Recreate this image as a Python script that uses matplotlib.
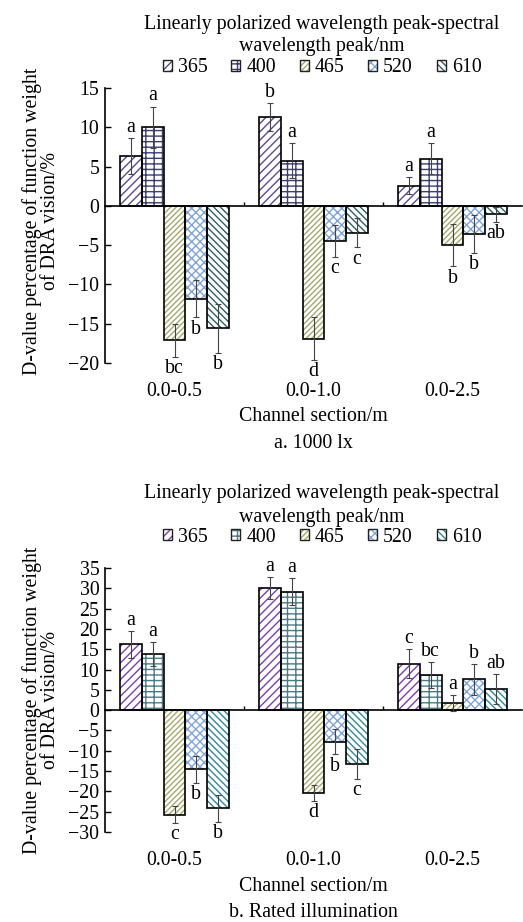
import matplotlib.pyplot as plt
import matplotlib.transforms as mtransforms
from matplotlib.patches import Patch
from matplotlib.legend_handler import HandlerTuple
import numpy as np

plt.rcParams['font.family'] = ['Liberation Serif', 'DejaVu Serif']
plt.rcParams['font.size'] = 14.3
plt.rcParams['hatch.linewidth'] = 1.0

groups = ["0.0-0.5", "0.0-1.0", "0.0-2.5"]
wavelengths = ["365", "400", "465", "520", "610"]

# panel a: 1000 lx
a_vals = [[6.3, 11.3, 2.55],
          [10.0, 5.75, 6.0],
          [-17.1, -16.9, -5.0],
          [-11.8, -4.5, -3.6],
          [-15.6, -3.4, -1.05]]
a_err = [[2.3, 1.8, 1.1],
         [2.6, 2.2, 2.0],
         [2.1, 2.7, 2.7],
         [2.4, 2.0, 2.4],
         [3.1, 1.9, 0.95]]
a_letters = [["a", "b", "a"],
             ["a", "a", "a"],
             ["bc", "d", "b"],
             ["b", "c", "b"],
             ["b", "c", "ab"]]

# panel b: rated illumination
b_vals = [[16.2, 30.0, 11.4],
          [13.8, 29.2, 8.6],
          [-25.7, -20.3, 1.8],
          [-14.6, -7.8, 7.55],
          [-24.2, -13.3, 5.1]]
b_err = [[3.3, 2.7, 3.6],
         [3.0, 3.3, 3.2],
         [2.0, 1.95, 1.9],
         [3.4, 3.1, 3.7],
         [3.4, 3.7, 3.7]]
b_letters = [["a", "a", "c"],
             ["a", "a", "bc"],
             ["c", "d", "a"],
             ["b", "b", "b"],
             ["b", "c", "ab"]]

hatches = ['////', '---||', '//////', 'xxxx', '\\\\\\\\\\']
a_colors = ['#5b4a8f', '#3a3f6e', '#a3a86e', '#7fa4d6', '#2d5f66']
b_colors = ['#7b3fb0', '#4c7b86', '#a6aa6a', '#80a6dc', '#2f8a9a']

W, H = 523, 922
fig = plt.figure(figsize=(W / 100, H / 100), dpi=100)
FS = 14.3


def fy(y):
    return 1 - y / H


def panel(rect, vals, errs, letters, colors, ylim, yticks, ypix):
    ax = fig.add_axes(rect)
    x = np.arange(len(groups))
    width = 0.156
    span = ylim[1] - ylim[0]
    for i in range(len(wavelengths)):
        pos = x + (i - 2) * width
        ax.bar(pos, vals[i], width, color='white', edgecolor=colors[i],
               hatch=hatches[i], linewidth=0, zorder=2)
        ax.bar(pos, vals[i], width, fill=False, edgecolor='black',
               linewidth=1.2, zorder=3)
        ax.errorbar(pos, vals[i], yerr=errs[i], fmt='none', ecolor='#444444',
                    elinewidth=0.8, capsize=2.5, capthick=0.8, zorder=4)
        for j in range(len(groups)):
            v, e = vals[i][j], errs[i][j]
            if v >= 0:
                ax.text(pos[j], v + e + span * 0.005, letters[i][j],
                        ha='center', va='bottom', fontsize=FS)
            else:
                ax.text(pos[j], v - e - span * 0.008, letters[i][j],
                        ha='center', va='top', fontsize=FS)
    ax.set_xlim(-0.5, 2.5)
    ax.set_ylim(*ylim)
    ax.set_yticks(yticks)
    ax.set_yticklabels([str(t).replace('-', '\u2212') for t in yticks])
    ax.tick_params(axis='y', direction='in', length=4, width=1, pad=4,
                   labelsize=FS)
    ax.spines['top'].set_visible(False)
    ax.spines['right'].set_visible(False)
    ax.spines['bottom'].set_position(('data', 0))
    ax.spines['left'].set_linewidth(1.2)
    ax.spines['bottom'].set_linewidth(1.2)
    ax.set_xticks([0.5, 1.5])
    ax.set_xticklabels([])
    ax.tick_params(axis='x', direction='in', length=3, width=1)
    trans = mtransforms.blended_transform_factory(ax.transData, fig.transFigure)
    for j, g in enumerate(groups):
        ax.text(j, fy(ypix[0]), g, transform=trans, ha='center', va='center',
                fontsize=FS)
    fig.text(0.60, fy(ypix[1]), "Channel section/m", ha='center', va='center',
             fontsize=FS)
    fig.text(0.60, fy(ypix[2]), ypix[3], ha='center', va='center', fontsize=FS)
    return ax


def legend_block(colors, ys, ycenter_axes):
    fig.text(0.616, fy(ys[0]), "Linearly polarized wavelength peak-spectral",
             ha='center', va='center', fontsize=FS)
    fig.text(0.616, fy(ys[1]), "wavelength peak/nm",
             ha='center', va='center', fontsize=FS)
    handles = []
    for i in range(len(wavelengths)):
        h1 = Patch(facecolor='white', edgecolor=colors[i], hatch=hatches[i],
                   linewidth=0)
        h2 = Patch(facecolor='none', edgecolor='#222222', linewidth=1.0)
        handles.append((h1, h2))
    fig.legend(handles, wavelengths, loc='center',
               bbox_to_anchor=(0.616, fy(ys[2])), ncol=5, frameon=False,
               handlelength=0.45, handleheight=0.45, handletextpad=0.3,
               columnspacing=1.2, fontsize=FS,
               handler_map={tuple: HandlerTuple(ndivide=1, pad=0)})
    fig.text(0.079, ycenter_axes, "D-value percentage of function weight\nof DRA vision/%",
             rotation=90, ha='center', va='center', fontsize=FS,
             linespacing=0.95)


axa = panel([105 / W, fy(363), 417 / W, (363 - 88) / H], a_vals, a_err,
            a_letters, a_colors, (-20, 15), [-20, -15, -10, -5, 0, 5, 10, 15],
            (392, 416, 443, "a. 1000 lx"))
legend_block(a_colors, (25, 47, 68), fy(221))

axb = panel([105 / W, fy(832), 417 / W, (832 - 568) / H], b_vals, b_err,
            b_letters, b_colors, (-30, 35),
            [-30, -25, -20, -15, -10, -5, 0, 5, 10, 15, 20, 25, 30, 35],
            (860, 886, 912, "b. Rated illumination"))
legend_block(b_colors, (493, 517, 537), fy(700))

fig.savefig("out.png", dpi=100)
